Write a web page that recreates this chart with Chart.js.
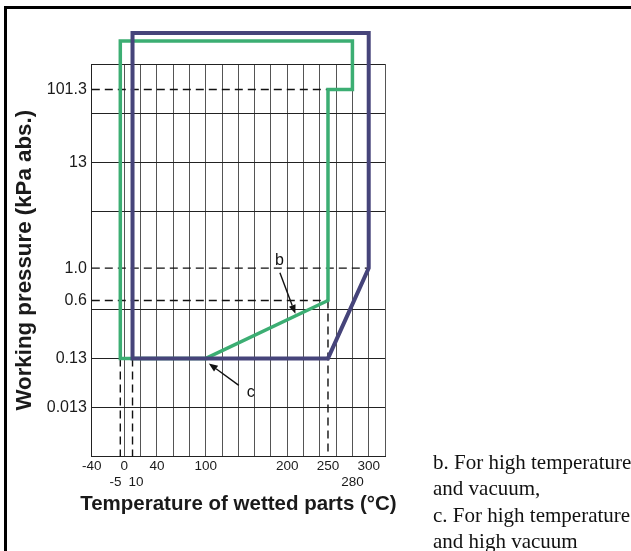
<!DOCTYPE html>
<html>
<head>
<meta charset="utf-8">
<script src="https://cdn.jsdelivr.net/npm/chart.js@4.4.1/dist/chart.umd.min.js"></script>
<style>
  body { margin: 0; background: #fff; }
  #wrap { position: relative; width: 631px; height: 551px; overflow: hidden; }
  #frame { position: absolute; left: 4px; top: 6px; width: 700px; height: 600px;
           border-left: 3px solid #000; border-top: 3px solid #000; }
  #note { position: absolute; left: 433px; top: 449px; font: 21px "Liberation Serif", serif;
          line-height: 26.3px; color: #111; white-space: nowrap; }
  canvas { position: absolute; left: 0; top: 0; }
</style>
</head>
<body>
<div id="wrap">
  <div id="frame"></div>
  <canvas id="chart" width="631" height="551"></canvas>
  <div id="note">b. For high temperature<br>and vacuum,<br>c. For high temperature<br>and high vacuum</div>
</div>
<script>
// temperature axis (°C)
const tempGrid = [-40, 0, 20, 40, 60, 80, 100, 120, 140, 160, 180, 200, 220, 240, 260, 280, 300, 320];
const tempLabels = [-40, 0, 40, 100, 200, 250, 300];
const tempLabels2 = [-5, 10, 280];
const tempTitle = 'Temperature of wetted parts (°C)';

// pressure axis (kPa abs.)
const pressureValues = [0.013, 0.13, 0.6, 1.0, 13, 101.3];
const pressureLabels = ['0.013', '0.13', '0.6', '1.0', '13', '101.3'];

// b: high temperature and vacuum (green)
const vacuumTemp = [100, -5, -5, 280, 280, 250, 250, 100];
const vacuumPress = [0.13, 0.13, 400, 400, 101.3, 101.3, 0.6, 0.13];

// high temperature range (dark blue)
const highTemp = [10, 10, 300, 300, 250, 10];
const highPress = [0.13, 500, 500, 1.0, 0.13, 0.13];

// dashed guide lines
const guideTemp = [[-40, 250], [-40, 300], [-40, 250], [-5, -5], [10, 10], [250, 250]];
const guidePress = [[101.3, 101.3], [1.0, 1.0], [0.6, 0.6], [0.13, 0.0013], [0.13, 0.0013], [0.6, 0.0013]];

// the pressure axis of the original is schematic: each labelled pressure sits on its own row
const pressureRows = [[0.013, 1], [0.13, 2], [0.6, 3.18], [1.0, 3.84], [13, 6], [101.3, 7.48]];
const gridRows = [0, 1, 2, 3, 5, 6, 7, 8];

function warp(p) {
  const lp = Math.log10(p);
  let i = 0;
  while (i < pressureRows.length - 2 && lp > Math.log10(pressureRows[i + 1][0])) i++;
  const [p0, w0] = pressureRows[i], [p1, w1] = pressureRows[i + 1];
  const l0 = Math.log10(p0), l1 = Math.log10(p1);
  return w0 + (lp - l0) * (w1 - w0) / (l1 - l0);
}

class PressureScale extends Chart.LinearScale {
  parse(raw, index) {
    const v = super.parse(raw, index);
    return v === null ? null : warp(v);
  }
}
PressureScale.id = 'pressure';
PressureScale.defaults = Chart.LinearScale.defaults;
Chart.register(PressureScale);

const near = (a, b) => Math.abs(a - b) < 1e-6;
const sans = '"Liberation Sans", Arial, sans-serif';

const arrowNotes = [
  { text: 'b', t: 210, p: 0.40, tip: [0, -2], tail: [-15.5, -43], label: [-16, -55] },
  { text: 'c', t: 100, p: 0.13, tip: [3, 5], tail: [33, 27], label: [45, 34] }
];

const arrowPlugin = {
  id: 'arrows',
  afterDatasetsDraw(chart) {
    const ctx = chart.ctx, xs = chart.scales.x, ys = chart.scales.y;
    ctx.save();
    ctx.strokeStyle = '#111';
    ctx.fillStyle = '#111';
    ctx.lineWidth = 1.4;
    ctx.font = '16px ' + sans;
    ctx.textAlign = 'center';
    ctx.textBaseline = 'middle';
    arrowNotes.forEach(n => {
      const ax = xs.getPixelForValue(n.t), ay = ys.getPixelForValue(ys.parse(n.p));
      const tx = ax + n.tip[0], ty = ay + n.tip[1];
      const sx = ax + n.tail[0], sy = ay + n.tail[1];
      const ang = Math.atan2(ty - sy, tx - sx);
      const hl = 9, hw = 3.5;
      const bx = tx - hl * Math.cos(ang), by = ty - hl * Math.sin(ang);
      ctx.beginPath();
      ctx.moveTo(sx, sy);
      ctx.lineTo(bx, by);
      ctx.stroke();
      ctx.beginPath();
      ctx.moveTo(tx, ty);
      ctx.lineTo(bx + hw * Math.sin(ang), by - hw * Math.cos(ang));
      ctx.lineTo(bx - hw * Math.sin(ang), by + hw * Math.cos(ang));
      ctx.closePath();
      ctx.fill();
      ctx.fillText(n.text, ax + n.label[0], ay + n.label[1]);
    });
    ctx.restore();
  }
};

// x title drawn here: the axis title would be squeezed to the plot width
const xTitlePlugin = {
  id: 'xTitle',
  afterDraw(chart) {
    const ctx = chart.ctx, a = chart.chartArea, x2 = chart.scales.x2;
    ctx.save();
    ctx.fillStyle = '#1a1a1a';
    ctx.font = 'bold 20.5px ' + sans;
    ctx.textAlign = 'center';
    ctx.textBaseline = 'middle';
    ctx.fillText(tempTitle, (a.left + a.right) / 2, x2.bottom + 17.5);
    ctx.restore();
  }
};

const toPoints = (xs, ps) => xs.map((x, i) => ({ x: x, y: ps[i] }));

const datasets = [
  { data: toPoints(highTemp, highPress), borderColor: '#46447a', borderWidth: 4,
    borderCapStyle: 'square', borderJoinStyle: 'miter' },
  { data: toPoints(vacuumTemp, vacuumPress), borderColor: '#3cae73', borderWidth: 3.5,
    borderCapStyle: 'square', borderJoinStyle: 'miter' }
];
guideTemp.forEach((g, i) => {
  datasets.push({ data: toPoints(g, guidePress[i]), borderColor: '#111', borderWidth: 1.4,
    borderDash: [8, 5] });
});
datasets.forEach(d => { d.pointRadius = 0; d.tension = 0; d.clip = false; d.fill = false; });

const tickFont = { family: sans, size: 13.5, lineHeight: 1 };

// the two close labels under -5 and 10 are pushed apart a little, as in the original
const row2Text = v => v === -5 ? '-5\u2002\u2009' : v === 10 ? '\u200210' : String(v);

new Chart(document.getElementById('chart'), {
  type: 'line',
  data: { datasets },
  plugins: [arrowPlugin, xTitlePlugin],
  options: {
    responsive: false,
    animation: false,
    layout: { padding: { top: 64, right: 246, bottom: 64, left: 0 } },
    plugins: { legend: { display: false }, tooltip: { enabled: false } },
    scales: {
      x: {
        type: 'linear', position: 'bottom', min: -40, max: 320,
        afterBuildTicks: s => {
          const v = [...new Set([...tempGrid, ...tempLabels])].sort((a, b) => a - b);
          s.ticks = v.map(value => ({ value }));
        },
        ticks: { autoSkip: false, maxRotation: 0, padding: 3.5, color: '#1a1a1a', font: tickFont,
          callback: v => tempLabels.includes(v) ? String(v) : '' },
        grid: { drawTicks: false, lineWidth: 1,
          color: c => tempGrid.includes(c.tick.value) ? '#555' : 'rgba(0,0,0,0)' },
        border: { color: '#222', width: 1 }
      },
      x2: {
        type: 'linear', position: 'bottom', min: -40, max: 320,
        afterBuildTicks: s => { s.ticks = tempLabels2.map(value => ({ value })); },
        ticks: { autoSkip: false, maxRotation: 0, padding: -1.75, color: '#1a1a1a', font: tickFont,
          callback: row2Text },
        grid: { display: false, drawTicks: false },
        border: { display: false }
      },
      y: {
        type: 'pressure', min: 0, max: 8,
        afterBuildTicks: s => {
          const v = [...gridRows];
          pressureValues.forEach(p => { const w = warp(p); if (!v.some(x => near(x, w))) v.push(w); });
          v.sort((a, b) => a - b);
          s.ticks = v.map(value => ({ value }));
        },
        ticks: { autoSkip: false, padding: 5, color: '#1a1a1a',
          font: { family: sans, size: 16, lineHeight: 1 },
          callback: v => {
            const i = pressureValues.findIndex(p => near(warp(p), v));
            return i < 0 ? '' : pressureLabels[i];
          } },
        grid: { drawTicks: false, lineWidth: 1,
          color: c => gridRows.some(r => near(r, c.tick.value)) ? '#222' : 'rgba(0,0,0,0)' },
        border: { color: '#222', width: 1 },
        title: { display: true, text: 'Working pressure (kPa abs.)', color: '#1a1a1a',
          padding: { top: 11.5, bottom: 3.5 },
          font: { family: sans, size: 22.3, weight: 'bold' } }
      }
    }
  }
});
</script>
</body>
</html>
